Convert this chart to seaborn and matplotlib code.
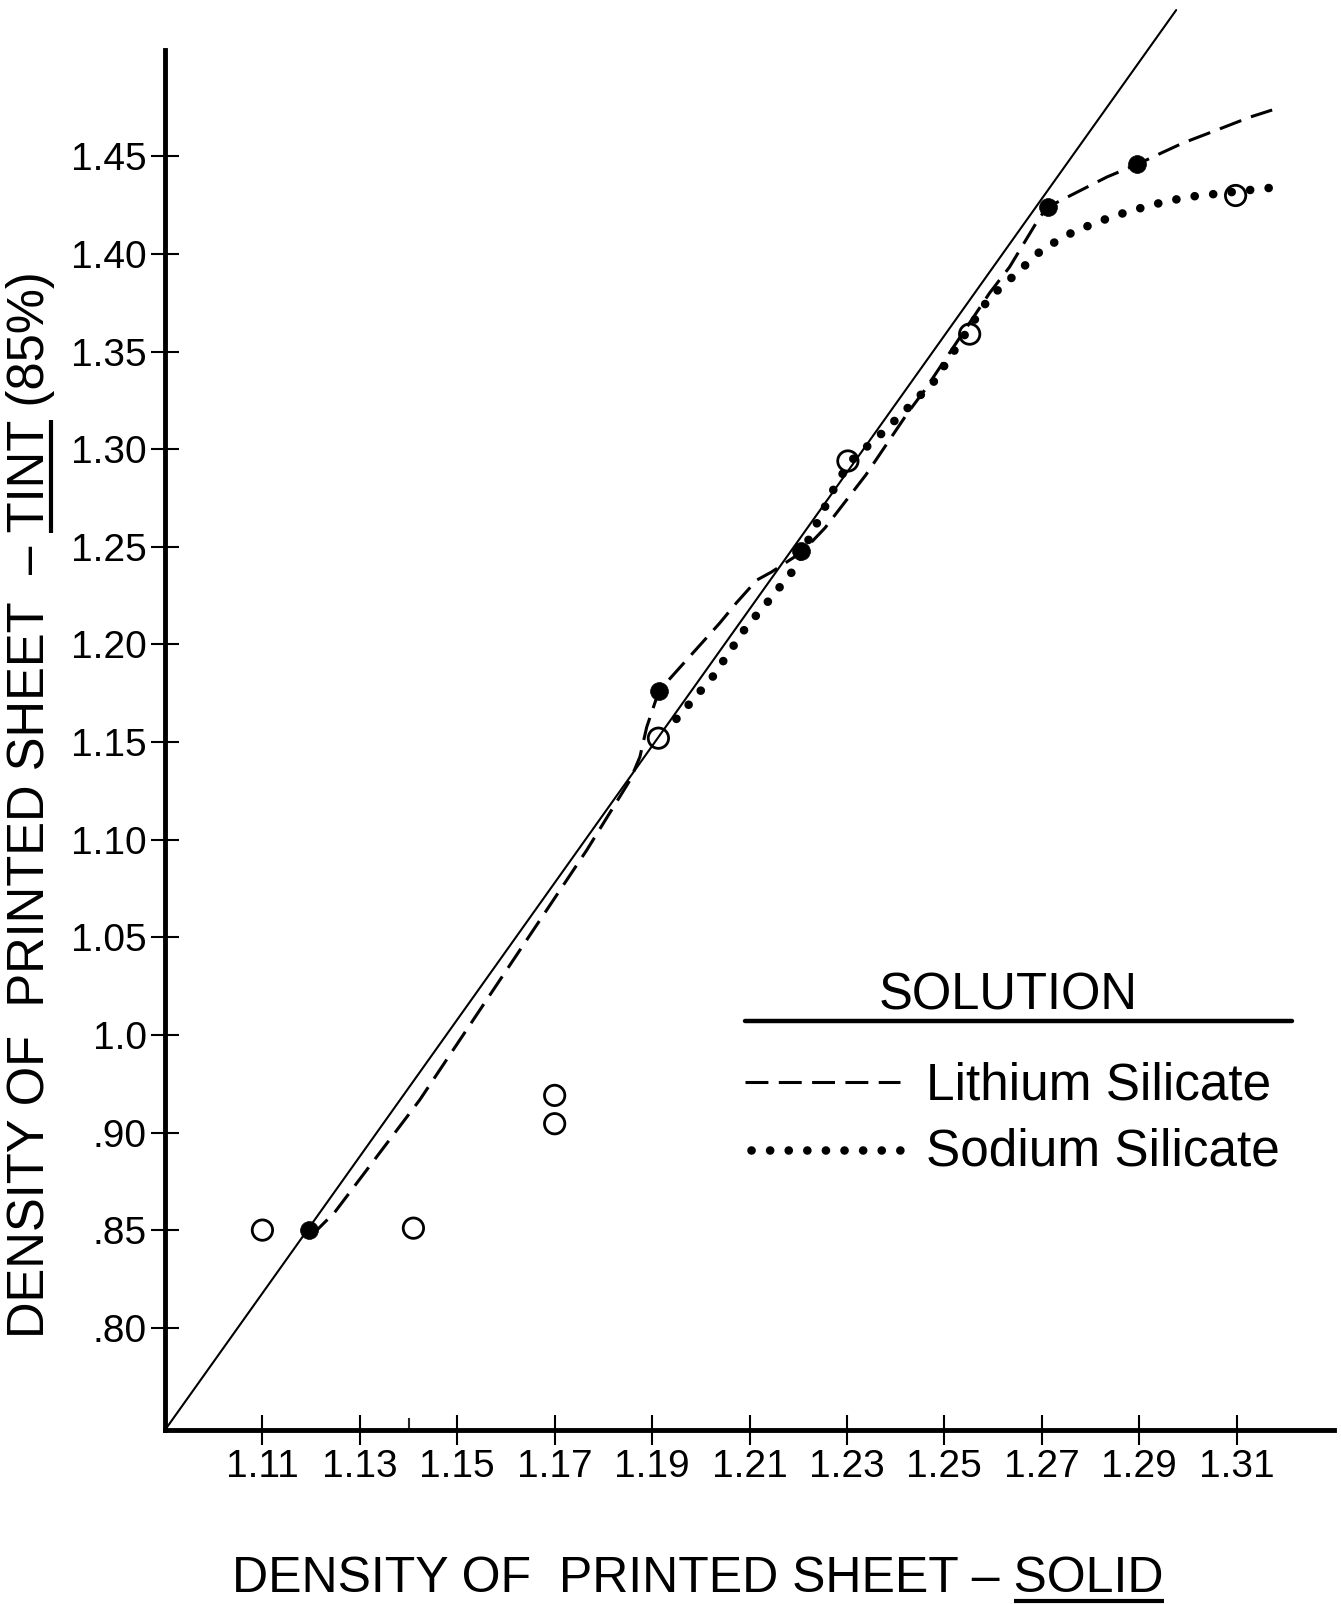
import numpy as np
import matplotlib
matplotlib.use("Agg")
import matplotlib.pyplot as plt
from matplotlib.lines import Line2D
from matplotlib.transforms import IdentityTransform
from matplotlib.ticker import NullLocator
import seaborn as sns

# ---------------- data ----------------
X_TICKS = [1.11, 1.13, 1.15, 1.17, 1.19, 1.21, 1.23, 1.25, 1.27, 1.29, 1.31]
X_TICK_LABELS = ["1.11", "1.13", "1.15", "1.17", "1.19", "1.21", "1.23",
                 "1.25", "1.27", "1.29", "1.31"]
X_MINOR_TICKS = [1.14]
Y_TICKS = [0.80, 0.85, 0.90, 1.00, 1.05, 1.10, 1.15, 1.20, 1.25, 1.30,
           1.35, 1.40, 1.45]
Y_TICK_LABELS = [".80", ".85", ".90", "1.0", "1.05", "1.10", "1.15", "1.20",
                 "1.25", "1.30", "1.35", "1.40", "1.45"]

# reference (solid) line
REF_X = [1.090, 1.2976]
REF_Y = [0.7476, 1.525]

# Lithium silicate: measured points (filled) and fitted dashed curve
LITHIUM_X = [1.1195, 1.1915, 1.2205, 1.2713, 1.2896]
LITHIUM_Y = [0.850, 1.176, 1.248, 1.424, 1.446]
LITHIUM_CURVE_X = [1.1195, 1.1213, 1.1248, 1.1423, 1.1766, 1.1855, 1.1875,
                   1.1889, 1.1914, 1.1971, 1.2039, 1.2073, 1.2115, 1.2145,
                   1.2208, 1.2255, 1.2339, 1.2425, 1.2460, 1.2593, 1.2634,
                   1.2696, 1.2714, 1.2834, 1.2898, 1.2937, 1.2990, 1.3060,
                   1.3128, 1.3173]
LITHIUM_CURVE_Y = [0.8497, 0.8503, 0.8590, 0.9334, 1.0947, 1.1306, 1.1424,
                   1.1577, 1.1762, 1.1921, 1.2110, 1.2213, 1.2330, 1.2371,
                   1.2474, 1.2597, 1.2869, 1.3187, 1.3304, 1.3801, 1.3934,
                   1.4190, 1.4243, 1.4395, 1.4462, 1.4508, 1.4569, 1.4636,
                   1.4702, 1.4738]

# Sodium silicate: measured points (open) and fitted dotted curve
SODIUM_X = [1.110, 1.141, 1.170, 1.170, 1.1913, 1.2302, 1.2552, 1.3098]
SODIUM_Y = [0.850, 0.851, 0.938, 0.909, 1.152, 1.294, 1.359, 1.430]
SODIUM_CURVE_X = [1.1950, 1.2024, 1.2092, 1.2139, 1.2189, 1.2242, 1.2277,
                  1.2306, 1.2370, 1.2425, 1.2478, 1.2592, 1.2649, 1.2702,
                  1.2768, 1.2848, 1.2924, 1.2998, 1.3074, 1.3148, 1.3189]
SODIUM_CURVE_Y = [1.1619, 1.1833, 1.2085, 1.2223, 1.2377, 1.2639, 1.2817,
                  1.2935, 1.3078, 1.3212, 1.3345, 1.3775, 1.3903, 1.4026,
                  1.4118, 1.4195, 1.4251, 1.4292, 1.4313, 1.4334, 1.4344]

X_LABEL = "DENSITY OF  PRINTED SHEET \u2013 SOLID"
Y_LABEL = "DENSITY OF  PRINTED SHEET  \u2013 TINT (85%)"
LEGEND_TITLE = "SOLUTION"
LEGEND_LABELS = ["Lithium Silicate", "Sodium Silicate"]

# ---------------- style ----------------
sns.set_style("ticks")
plt.rcParams["font.family"] = ["Liberation Sans", "DejaVu Sans"]
plt.rcParams["axes.unicode_minus"] = False

W, H = 1341, 1604
fig = plt.figure(figsize=(W / 100, H / 100), dpi=100)
fig.patch.set_facecolor("white")


def fx(px):
    return px / W


def fy(py):
    return 1 - py / H


ax = fig.add_axes([fx(165), fy(1430), (1334 - 165) / W, (1430 - 0.3) / H])
ax.set_facecolor("white")


# the printed axis skips .95: the .90 -> 1.0 interval is drawn as one step
def fwd(v):
    v = np.asarray(v, dtype=float)
    return np.where(v >= 1.0, v, np.where(v <= 0.90, v + 0.05,
                                           0.95 + (v - 0.90) * 0.5))


def inv(t):
    t = np.asarray(t, dtype=float)
    return np.where(t >= 1.0, t, np.where(t <= 0.95, t - 0.05,
                                           0.90 + (t - 0.95) * 2.0))


ax.set_yscale("function", functions=(fwd, inv))
ax.set_xlim(1.09, 1.33)
ax.set_ylim(0.7476, 1.53)

# reference line
sns.lineplot(x=REF_X, y=REF_Y, ax=ax, color="black", lw=1.5,
             estimator=None, sort=False, zorder=2)
# lithium dashed
sns.lineplot(x=LITHIUM_CURVE_X, y=LITHIUM_CURVE_Y, ax=ax, color="black",
             lw=2.2, linestyle=(0, (7.5, 3.4)), estimator=None, sort=False,
             zorder=3)
# sodium dotted
sns.lineplot(x=SODIUM_CURVE_X, y=SODIUM_CURVE_Y, ax=ax, color="black",
             lw=6.2, linestyle=(0, (0.01, 2.15)), dash_capstyle="round",
             estimator=None, sort=False, zorder=3)

# points
sns.scatterplot(x=SODIUM_X, y=SODIUM_Y, ax=ax, s=215, color="black",
                edgecolor="black", linewidth=2.0, zorder=5)
ax.collections[-1].set_facecolor("none")
sns.scatterplot(x=LITHIUM_X, y=LITHIUM_Y, ax=ax, s=165, color="black",
                edgecolor="black", linewidth=0.5, zorder=6)

# spines / ticks
for s in ["top", "right"]:
    ax.spines[s].set_visible(False)
for s in ["left", "bottom"]:
    ax.spines[s].set_linewidth(3.5)
    ax.spines[s].set_color("black")
ax.spines["left"].set_bounds(0.7476, 1.5046)

ax.set_xticks(X_TICKS)
ax.set_xticklabels(X_TICK_LABELS)
ax.set_xticks(X_MINOR_TICKS, minor=True)
ax.set_yticks(Y_TICKS)
ax.set_yticklabels(Y_TICK_LABELS)
ax.yaxis.set_minor_locator(NullLocator())

ax.tick_params(axis="x", which="major", direction="inout", length=22,
               width=1.5, pad=3, labelsize=28, colors="black",
               bottom=True)
ax.tick_params(axis="x", which="minor", direction="in", length=9,
               width=1.5, bottom=True)
ax.tick_params(axis="y", which="major", direction="inout", length=20,
               width=1.5, pad=3, labelsize=28, colors="black", left=True)
ax.set_xlabel("")
ax.set_ylabel("")

# axis titles
xl = fig.text(fx(698), fy(1592), X_LABEL, ha="center", va="baseline",
              fontsize=36, color="black")
yl = fig.text(fx(31), fy(805), Y_LABEL, rotation=90, ha="center",
              va="center", fontsize=36.5, color="black")

# legend block
fig.text(fx(1008), fy(1010), LEGEND_TITLE, ha="center", va="baseline",
         fontsize=36.5, color="black")
fig.add_artist(Line2D([fx(745), fx(1292)], [fy(1021), fy(1021)],
                      color="black", lw=3.2))
fig.add_artist(Line2D([fx(745), fx(900)], [fy(1082), fy(1082)],
                      color="black", lw=2.2, linestyle=(0, (7.5, 3.4))))
fig.text(fx(926), fy(1100), LEGEND_LABELS[0], ha="left", va="baseline",
         fontsize=37, color="black")
fig.add_artist(Line2D([fx(751), fx(900)], [fy(1150), fy(1150)],
                      color="black", lw=6.2, linestyle=(0, (0.01, 2.15)),
                      dash_capstyle="round"))
fig.text(fx(926), fy(1166), LEGEND_LABELS[1], ha="left", va="baseline",
         fontsize=37, color="black")

# underlines of SOLID and TINT
fig.canvas.draw()
r = fig.canvas.get_renderer()


def tw(s, t):
    w, h, d = r.get_text_width_height_descent(s, t.get_fontproperties(),
                                              ismath=False)
    return w, d


bb = xl.get_window_extent(r)
w_solid, _ = tw("SOLID", xl)
_, lp_d = tw("lp", xl)
base = bb.y0 + lp_d
fig.add_artist(Line2D([bb.x1 - w_solid, bb.x1], [base - 9, base - 9],
                      transform=IdentityTransform(), color="black", lw=3,
                      solid_capstyle="butt"))

bb = yl.get_window_extent(r)
w_all, _ = tw("TINT (85%)", yl)
w_tint, _ = tw("TINT", yl)
_, lp_d = tw("lp", yl)
base_x = bb.x1 - lp_d
y0 = bb.y1 - w_all
fig.add_artist(Line2D([base_x + 6, base_x + 6], [y0, y0 + w_tint],
                      transform=IdentityTransform(), color="black", lw=3,
                      solid_capstyle="butt"))

fig.savefig("out.png", dpi=100, facecolor="white")
